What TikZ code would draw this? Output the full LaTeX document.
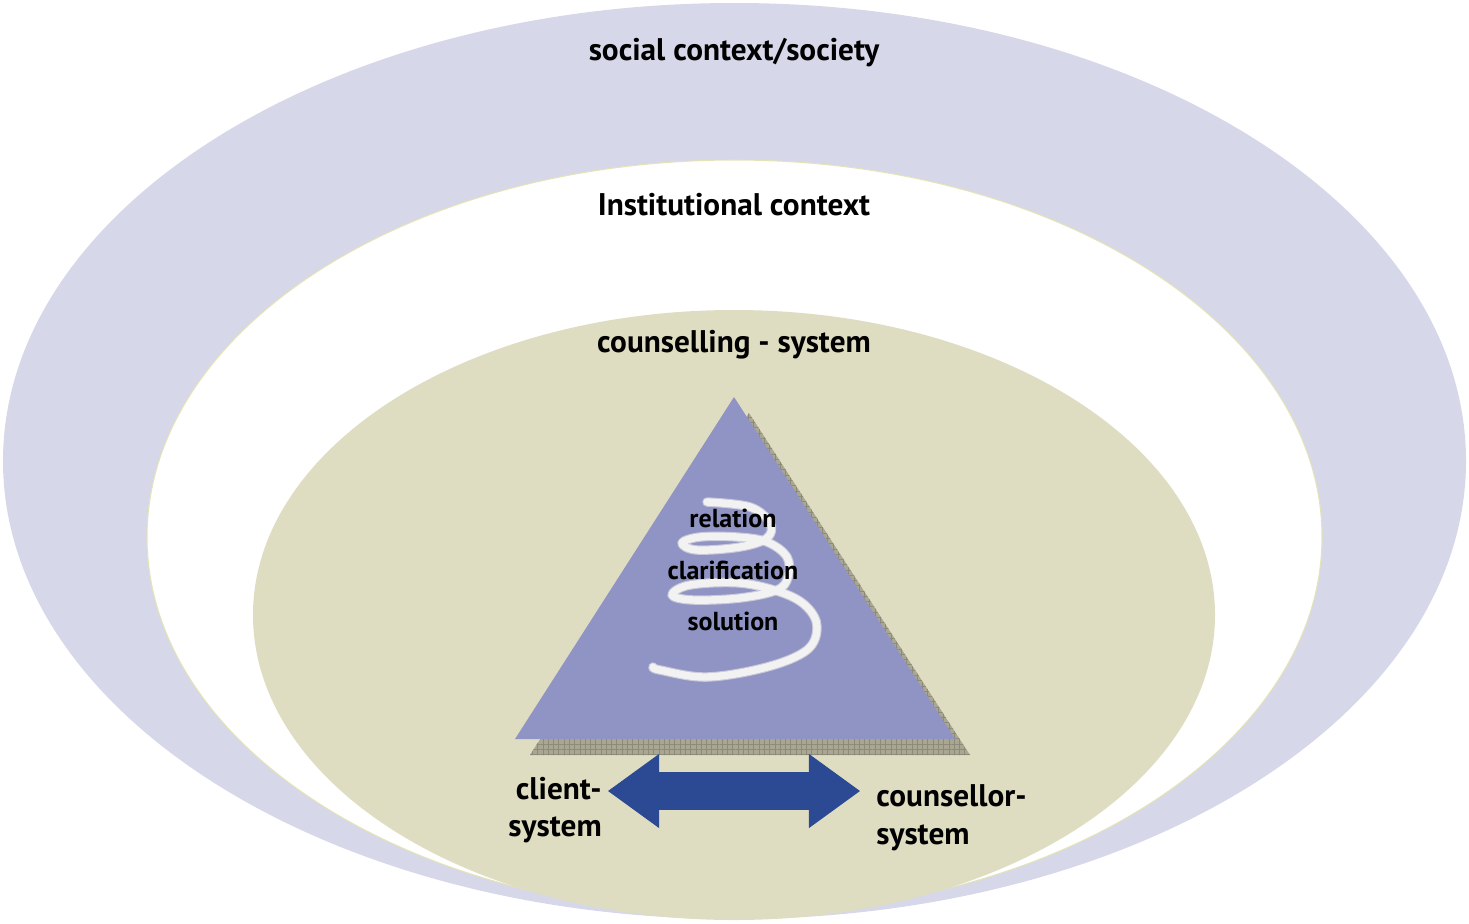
\documentclass[tikz,border=0pt]{standalone}
\usepackage{fontspec}
\setmainfont{PT Sans}
\usetikzlibrary{patterns.meta, shapes.arrows}

\definecolor{societyblue}{HTML}{D6D7E9}
\definecolor{institutionline}{HTML}{E4E3B8}
\definecolor{counselltan}{HTML}{DFDDC1}
\definecolor{trianglefill}{HTML}{8F94C4}
\definecolor{shadowgrey}{HTML}{A9A792}
\definecolor{shadowgrid}{HTML}{8C8A78}
\definecolor{arrowblue}{HTML}{2B4A93}
\definecolor{spiralwhite}{HTML}{F2F2F2}
\definecolor{spiraledge}{HTML}{C8C8D8}

\begin{document}
\begin{tikzpicture}[x=0.02cm, y=-0.02cm]

% --- Define reusable styles and key values ---
\tikzset{
    bigtext/.style={font=\fontsize{17.8}{21.5}\selectfont\bfseries, inner sep=0pt},
    smalltext/.style={font=\fontsize{14.8}{17}\selectfont\bfseries, inner sep=0pt},
    coil/.style={line cap=round, line join=round}
}
% Offset of the triangle's shadow (in pixels of the picture)
\def\shadowdx{15}
\def\shadowdy{16}

\useasboundingbox (0,0) rectangle (1469,923);

% 1. Outer ellipse: society
\fill[societyblue] (734.5,461) ellipse [x radius=731.5, y radius=458];

% 2. Middle ellipse: institution
\filldraw[fill=white, draw=institutionline, line width=0.6pt] (734.5,537) ellipse [x radius=587.5, y radius=377];

% 3. Inner ellipse: counselling system
\fill[counselltan] (734,615) ellipse [x radius=481, y radius=305];

% 4. Triangle with its hatched shadow
\coordinate (apex) at (734,397);
\coordinate (lefttip) at (515,739);
\coordinate (righttip) at (955,739);
\fill[preaction={fill=shadowgrey}, pattern={Hatch[angle=0, distance=3pt, line width=0.3pt]}, pattern color=shadowgrid]
    ([shift={(\shadowdx,\shadowdy)}]apex) -- ([shift={(\shadowdx,\shadowdy)}]righttip) -- ([shift={(\shadowdx,\shadowdy)}]lefttip) -- cycle;
\fill[trianglefill] (apex) -- (righttip) -- (lefttip) -- cycle;

% 5. The coil inside the triangle
\def\coilpath{plot[smooth, tension=0.6] coordinates {(707,502) (750,507) (770,523) (767,538) (740,547) (697,550) (682,543) (700,537) (737,537) (767,542) (787,557) (788,577) (777,590) (740,598) (693,600) (672,595) (690,585) (740,583) (783,593) (807,607) (817,627) (807,650) (767,667) (707,677) (660,670) (653,667)}}
\draw[coil, spiraledge, line width=5.4pt] \coilpath;
\draw[coil, spiralwhite, line width=4.2pt] \coilpath;

% 6. Labels of the three rings
\node[bigtext, anchor=base] (society) at (734,60) {social context/society};
\node[bigtext, anchor=base] (institution) at (734,215) {Institutional context};
\node[bigtext, anchor=base] (counselling) at (734,352) {counselling - system};

% 7. Labels on the triangle
\node[smalltext, anchor=base] (relation) at (733,527) {relation};
\node[smalltext, anchor=base] (clarification) at (733,579) {clarification};
\node[smalltext, anchor=base] (solution) at (733,630) {solution};

% 8. Client and counsellor with the double arrow between them
\node[double arrow, fill=arrowblue, inner xsep=0pt, inner ysep=0.37cm, minimum height=5.04cm,
      double arrow head extend=0.365cm, double arrow tip angle=72] (exchange) at (734,791) {};
\node[bigtext, align=right, anchor=east] (client) at (602,810) {client-\\system};
\node[bigtext, align=left, anchor=west] (counsellor) at (876,818) {counsellor-\\system};

\end{tikzpicture}
\end{document}
